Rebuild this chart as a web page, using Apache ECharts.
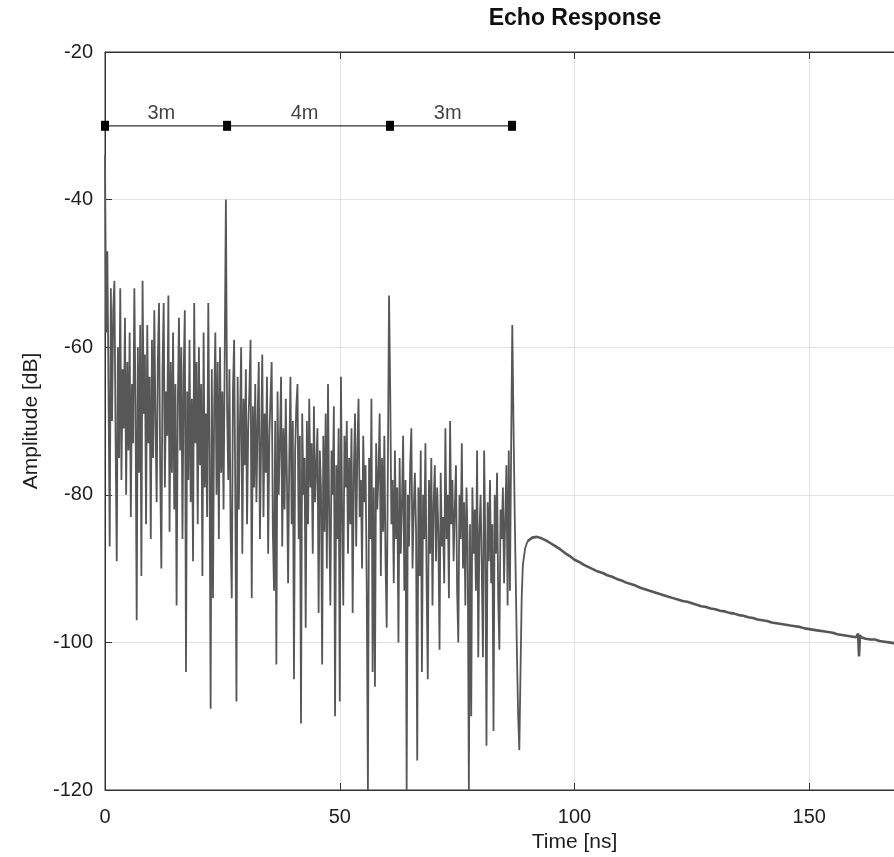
<!DOCTYPE html>
<html>
<head>
<meta charset="utf-8">
<script src="https://cdn.jsdelivr.net/npm/echarts@6/dist/echarts.min.js"></script>
<style>
  html, body { margin: 0; padding: 0; background: #fff; overflow: hidden; }
  /* the plot runs past the right edge of the window, like the cropped original */
  #echoChart { width: 1044px; height: 857px; }
</style>
</head>
<body>
<div id="echoChart"></div>
<script>
// sample spacing of the noisy part [ns]
var NOISE_DT = 0.25;
// noisy echo, 0 .. 87.75 ns, dB
var NOISE_DB = [
  -34, -58, -47, -66, -87, -52, -70, -55,
  -51, -72, -89, -60, -75, -52, -78, -63,
  -71, -56, -80, -62, -74, -58, -83, -65,
  -73, -52, -68, -97, -60, -77, -57, -91,
  -51, -69, -61, -84, -57, -73, -64, -86,
  -59, -75, -55, -70, -81, -62, -54, -76,
  -90, -63, -54, -79, -66, -72, -53, -85,
  -62, -77, -58, -82, -65, -95, -68, -56,
  -74, -60, -86, -64, -55, -104, -66, -78,
  -59, -81, -67, -89, -54, -73, -62, -84,
  -60, -76, -65, -91, -58, -79, -69, -83,
  -54, -74, -109, -63, -94, -68, -58, -80,
  -62, -86, -60, -77, -66, -82, -61, -40,
  -68, -78, -63, -85, -94, -66, -59, -80,
  -108, -64, -82, -70, -60, -88, -67, -76,
  -63, -84, -71, -66, -59, -94, -68, -79,
  -65, -81, -70, -62, -86, -73, -61, -83,
  -69, -77, -64, -88, -72, -67, -62, -85,
  -93, -70, -103, -66, -80, -73, -64, -87,
  -71, -82, -67, -78, -92, -75, -64, -84,
  -70, -105, -74, -68, -65, -86, -72, -111,
  -69, -80, -75, -98, -70, -84, -67, -79,
  -73, -88, -68, -81, -76, -71, -96, -74,
  -79, -103, -72, -85, -69, -90, -65, -83,
  -95, -74, -80, -68, -110, -76, -86, -71,
  -108, -64, -82, -95, -72, -79, -70, -88,
  -75, -84, -71, -96, -77, -69, -87, -74,
  -67, -83, -78, -90, -72, -81, -76, -93,
  -120, -75, -86, -67, -104, -79, -106, -73,
  -82, -77, -69, -91, -75, -85, -72, -89,
  -98, -76, -53, -66, -84, -78, -92, -74,
  -86, -79, -100, -75, -88, -81, -72, -93,
  -78, -120, -80, -87, -76, -71, -90, -82,
  -77, -85, -116, -79, -91, -74, -104, -80,
  -86, -73, -92, -105, -78, -88, -75, -95,
  -81, -76, -89, -79, -85, -101, -77, -87,
  -83, -92, -71, -86, -80, -94, -70, -84,
  -78, -89, -82, -76, -93, -100, -80, -86,
  -73, -90, -81, -95, -79, -87, -120, -84,
  -110, -79, -88, -82, -93, -74, -102, -85,
  -80, -90, -102, -74, -86, -114, -81, -89,
  -78, -92, -84, -112, -80, -88, -77, -94,
  -101, -82, -86, -79, -92, -83, -76, -95,
  -74, -93, -74, -57, -70, -82, -92, -102
];
// dip after the last reflection
var DIP_T  = [88.0, 88.25, 88.5, 88.75, 89.0, 89.5, 90.0];
var DIP_DB = [-110, -114.6, -104, -94, -89.5, -87.2, -86.3];
// smooth decay tail
var TAIL_T = [90, 91, 92, 93, 94, 95, 96, 97, 98, 99,
  100, 101, 102, 103, 104, 105, 106, 107, 108, 109,
  110, 111, 112, 113, 114, 115, 116, 117, 118, 119,
  120, 121, 122, 123, 124, 125, 126, 127, 128, 129,
  130, 131, 132, 133, 134, 135, 136, 137, 138, 139,
  140, 141, 142, 143, 144, 145, 146, 147, 148, 149,
  150, 151, 152, 153, 154, 155, 156, 157, 158, 159,
  160, 160.4, 160.6, 160.8, 161, 162, 163, 164, 165, 166,
  167, 168, 170, 175, 180, 185, 190, 195, 200];
var TAIL_DB = [-86.3, -85.8, -85.7, -85.9, -86.2, -86.6, -87.0, -87.4, -87.9, -88.3,
  -88.8, -89.1, -89.5, -89.8, -90.1, -90.4, -90.6, -90.9, -91.1, -91.4,
  -91.6, -91.9, -92.1, -92.3, -92.6, -92.8, -93.0, -93.2, -93.4, -93.6,
  -93.8, -94.0, -94.2, -94.4, -94.5, -94.7, -94.9, -95.1, -95.2, -95.4,
  -95.5, -95.7, -95.8, -96.0, -96.1, -96.3, -96.4, -96.6, -96.7, -96.9,
  -97.0, -97.1, -97.3, -97.4, -97.5, -97.6, -97.7, -97.8, -97.9, -98.1,
  -98.2, -98.3, -98.4, -98.5, -98.6, -98.7, -98.9, -99.0, -99.1, -99.2,
  -99.3, -98.8, -101.9, -99.0, -99.3, -99.5, -99.6, -99.6, -99.8, -99.9,
  -100.0, -100.1, -100.3, -100.8, -101.2, -101.6, -102.0, -102.3, -102.6];
// distance markers
var MARK_T = [0, 26, 60.7, 86.7];
var MARK_DB = -30;
var SPAN_T = [12, 42.5, 73];
var SPAN_TEXT = ['3m', '4m', '3m'];

var X_TICKS = [0, 50, 100, 150, 200];
var Y_TICKS = [-120, -100, -80, -60, -40, -20];

var noiseData = NOISE_DB.map(function (v, i) { return [i * NOISE_DT, v]; });
DIP_T.forEach(function (t, i) { noiseData.push([t, DIP_DB[i]]); });
var tailData = TAIL_T.map(function (t, i) { return [t, TAIL_DB[i]]; });
var markData = MARK_T.map(function (t) { return [t, MARK_DB]; });
var spanData = SPAN_T.map(function (t, i) { return { value: [t, MARK_DB], name: SPAN_TEXT[i] }; });

var FONT = 'Liberation Sans';
var TXT = '#1e1e1e';
var chart = echarts.init(document.getElementById('echoChart'));
var option = {
  animation: false,
  title: {
    text: 'Echo Response',
    left: 570,
    top: 2,
    textAlign: 'center',
    textStyle: { fontFamily: FONT, fontSize: 23, fontWeight: 'bold', color: '#111' }
  },
  grid: {
    left: 105, top: 52, bottom: 67, right: 0,
    outerBoundsMode: 'none',
    show: true, borderColor: '#333', borderWidth: 1
  },
  xAxis: [{
    type: 'value',
    min: X_TICKS[0], max: X_TICKS[X_TICKS.length - 1], interval: 50,
    name: 'Time [ns]', nameLocation: 'middle', nameGap: 37,
    nameTextStyle: { fontFamily: FONT, fontSize: 21, color: TXT },
    axisLine: { lineStyle: { color: '#333', width: 1 } },
    axisTick: { inside: true, length: 7, lineStyle: { color: '#333' } },
    axisLabel: { fontFamily: FONT, fontSize: 20, color: TXT, margin: 17 },
    splitLine: { lineStyle: { color: '#e2e2e2' } }
  }, {
    // top border with its ticks
    type: 'value', position: 'top',
    min: X_TICKS[0], max: X_TICKS[X_TICKS.length - 1], interval: 50,
    axisLine: { lineStyle: { color: '#333', width: 1 } },
    axisTick: { inside: true, length: 7, lineStyle: { color: '#333' } },
    axisLabel: { show: false },
    splitLine: { show: false }
  }],
  yAxis: {
    type: 'value',
    min: Y_TICKS[0], max: Y_TICKS[Y_TICKS.length - 1], interval: 20,
    name: 'Amplitude [dB]', nameLocation: 'middle', nameGap: 63,
    nameTextStyle: { fontFamily: FONT, fontSize: 21, color: TXT },
    axisLine: { lineStyle: { color: '#333', width: 1 } },
    axisTick: { inside: true, length: 7, lineStyle: { color: '#333' } },
    axisLabel: { fontFamily: FONT, fontSize: 20, color: TXT, margin: 12 },
    splitLine: { lineStyle: { color: '#e2e2e2' } }
  },
  series: [
    {
      type: 'line', data: noiseData, showSymbol: false, symbol: 'none',
      lineStyle: { color: '#575757', width: 1.8 }
    },
    {
      type: 'line', data: tailData, showSymbol: false, symbol: 'none',
      lineStyle: { color: '#575757', width: 2.6 }
    },
    {
      type: 'line', data: markData, symbol: 'rect', symbolSize: [8, 10],
      itemStyle: { color: '#000' },
      lineStyle: { color: '#333', width: 1.2 },
      z: 5
    },
    {
      type: 'scatter', data: spanData, symbolSize: 0,
      label: {
        show: true, position: 'top', distance: 2,
        formatter: '{b}',
        fontFamily: FONT, fontSize: 20, color: '#111'
      },
      z: 6
    }
  ]
};
chart.setOption(option);
</script>
</body>
</html>
